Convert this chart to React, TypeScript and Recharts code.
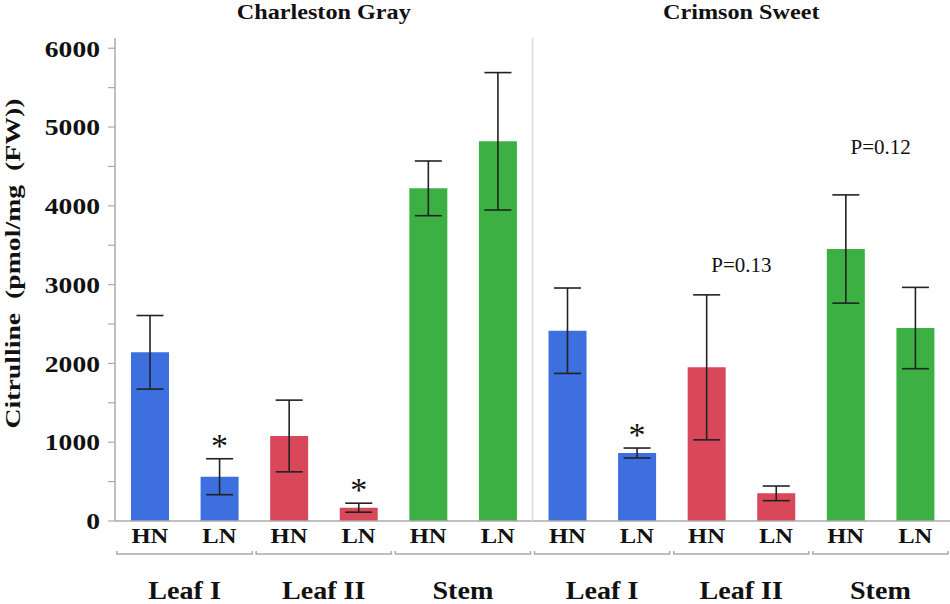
import React from 'react';
import { BarChart, Bar, XAxis, YAxis, ErrorBar, Cell, LabelList } from 'recharts';

// ---- data ----
const ids = ['CG-L1-HN', 'CG-L1-LN', 'CG-L2-HN', 'CG-L2-LN', 'CG-ST-HN', 'CG-ST-LN', 'CS-L1-HN', 'CS-L1-LN', 'CS-L2-HN', 'CS-L2-LN', 'CS-ST-HN', 'CS-ST-LN'];
const treatments = ['HN', 'LN', 'HN', 'LN', 'HN', 'LN', 'HN', 'LN', 'HN', 'LN', 'HN', 'LN'];
const tissues = ['Leaf I', 'Leaf I', 'Leaf II', 'Leaf II', 'Stem', 'Stem', 'Leaf I', 'Leaf I', 'Leaf II', 'Leaf II', 'Stem', 'Stem'];
const cultivars = ['Charleston Gray', 'Crimson Sweet'];
const means = [2141, 562, 1079, 169, 4222, 4819, 2415, 863, 1950, 351, 3452, 2449];
const sems = [467, 228, 455, 57, 347, 872, 542, 63, 920, 93, 687, 516];
const significance = ['', '*', '', '*', '', '', '', '*', '', '', '', ''];
const groupNotes = ['', '', '', '', 'P=0.13', 'P=0.12'];
const groupNoteLevels = [0, 0, 0, 0, 3250, 4750];
const yTicks = [0, 500, 1000, 1500, 2000, 2500, 3000, 3500, 4000, 4500, 5000, 5500, 6000];
const yLabel = 'Citrulline  (pmol/mg  (FW))';

const tissueColors: Record<string, string> = {
  'Leaf I': '#3E6FDF',
  'Leaf II': '#D8485A',
  Stem: '#3CB043',
};

const data = ids.map((id, i) => ({
  id,
  treatment: treatments[i],
  tissue: tissues[i],
  mean: means[i],
  err: sems[i],
}));

// ---- layout ----
const W = 950;
const H = 604;
const TOP = 38;
const Y_W = 115;
const XA_H = 30;
const GRP_H = 53;
const PLOT_W = W - Y_W;
const BAND = PLOT_W / ids.length;
const PLOT_H = H - TOP - XA_H - GRP_H;
const FONT = '"Liberation Serif", "Times New Roman", serif';
const AXIS_GRAY = '#ababab';

const YTick = (props: any) => {
  const { x, y, payload } = props;
  if (payload.value % 1000 !== 0) return <g />;
  return (
    <g transform={`translate(${x},${y})`}>
      <text transform="scale(1.2,1)" textAnchor="end" dy="0.36em" fontSize={23} fontWeight="bold" fontFamily={FONT} fill="#111">
        {payload.value}
      </text>
    </g>
  );
};

const TreatTick = (props: any) => {
  const { x, y, index } = props;
  return (
    <g transform={`translate(${x},${y + 22})`}>
      <text transform="scale(1.17,1)" textAnchor="middle" fontSize={21} fontWeight="bold" fontFamily={FONT} fill="#111">
        {treatments[index]}
      </text>
    </g>
  );
};

const GroupTick = (props: any) => {
  const { x, y, index } = props;
  if (index % 2 !== 0) return <g />;
  const left = x - BAND / 2 + 2;
  const right = x + BAND * 1.5 - 2;
  const cx = x + BAND / 2;
  return (
    <g>
      {index === 6 && (
        <line x1={x - BAND / 2} x2={x - BAND / 2} y1={TOP} y2={TOP + PLOT_H} stroke="#dcdcdc" strokeWidth={1.5} />
      )}
      <path
        d={`M${left},${y + 0} L${left},${y + 3} L${right},${y + 3} L${right},${y + 0}`}
        fill="none"
        stroke={AXIS_GRAY}
        strokeWidth={1.5}
      />
      <g transform={`translate(${cx},${y + 47.5})`}>
        <text transform="scale(1.08,1)" textAnchor="middle" fontSize={26} fontWeight="bold" fontFamily={FONT} fill="#111">
          {tissues[index]}
        </text>
      </g>
    </g>
  );
};

const TitleTick = (props: any) => {
  const { x, y, index } = props;
  if (index % 6 !== 0) return <g />;
  const cx = x + BAND * 2.5;
  return (
    <g transform={`translate(${cx},${y - 19.5})`}>
      <text transform="scale(1.1,1)" textAnchor="middle" fontSize={22} fontWeight="bold" fontFamily={FONT} fill="#111">
        {cultivars[index / 6]}
      </text>
    </g>
  );
};

const renderMarks = (props: any) => {
  const { x, y, width, height, value, index } = props;
  if (!value || !height) return <g />;
  const ppu = height / value;
  const base = y + height;
  const parts: React.ReactNode[] = [];
  if (significance[index]) {
    const errTop = y - sems[index] * ppu;
    parts.push(
      <text key="s" x={x + width / 2} y={errTop - 20 + 18} textAnchor="middle" fontSize={34} fontFamily={FONT} fill="#111">
        {significance[index]}
      </text>
    );
  }
  if (index % 2 === 0 && groupNotes[index / 2]) {
    const cx = x + width / 2 + BAND / 2;
    const cy = base - groupNoteLevels[index / 2] * ppu;
    parts.push(
      <g key="p" transform={`translate(${cx},${cy + 7})`}>
        <text transform="scale(1.05,1)" textAnchor="middle" fontSize={20} fontFamily={FONT} fill="#111">
          {groupNotes[index / 2]}
        </text>
      </g>
    );
  }
  return <g>{parts}</g>;
};

const renderYLabel = (props: any) => {
  const vb = props.viewBox || { x: 0, y: TOP, width: Y_W, height: PLOT_H };
  const cx = vb.x + 12;
  const cy = vb.y + vb.height / 2 - 16;
  return (
    <text
      x={cx}
      y={cy}
      transform={`rotate(-90, ${cx}, ${cy})`}
      textAnchor="middle"
      dy="0.35em"
      fontSize={22}
      fontWeight="bold"
      fontFamily={FONT}
      fill="#111"
      textLength={330}
      lengthAdjust="spacingAndGlyphs"
      style={{ whiteSpace: 'pre' }}
    >
      {yLabel}
    </text>
  );
};

export default function App() {
  return (
    <div style={{ position: 'absolute', left: 0, top: 0, width: W, height: H, background: '#fff' }}>
      <BarChart width={W} height={H} data={data} margin={{ top: 0, right: 0, bottom: 0, left: 0 }} barSize={38}>
        <XAxis
          xAxisId="x0title"
          orientation="top"
          dataKey="id"
          height={TOP}
          axisLine={false}
          tickLine={false}
          tickSize={0}
          tickMargin={0}
          interval={0}
          tick={<TitleTick />}
        />
        <XAxis
          xAxisId="x1main"
          dataKey="id"
          height={XA_H}
          axisLine={{ stroke: AXIS_GRAY, strokeWidth: 1.5 }}
          tickLine={false}
          tickSize={0}
          tickMargin={0}
          interval={0}
          tick={<TreatTick />}
        />
        <XAxis
          xAxisId="x2group"
          dataKey="id"
          height={GRP_H}
          axisLine={false}
          tickLine={false}
          tickSize={0}
          tickMargin={0}
          interval={0}
          tick={<GroupTick />}
        />
        <YAxis
          width={Y_W}
          domain={[0, 6130]}
          ticks={yTicks}
          interval={0}
          axisLine={{ stroke: AXIS_GRAY, strokeWidth: 1.5 }}
          tickLine={{ stroke: AXIS_GRAY, strokeWidth: 1.2 }}
          tickSize={7}
          tickMargin={8}
          tick={<YTick />}
          label={renderYLabel}
        />
        <Bar dataKey="mean" xAxisId="x1main" isAnimationActive={false}>
          {data.map((d) => (
            <Cell key={d.id} fill={tissueColors[d.tissue]} />
          ))}
          <ErrorBar dataKey="err" width={13.5} stroke="#222" strokeWidth={1.6} direction="y" isAnimationActive={false} />
          <LabelList dataKey="mean" content={renderMarks} />
        </Bar>
      </BarChart>
    </div>
  );
}
